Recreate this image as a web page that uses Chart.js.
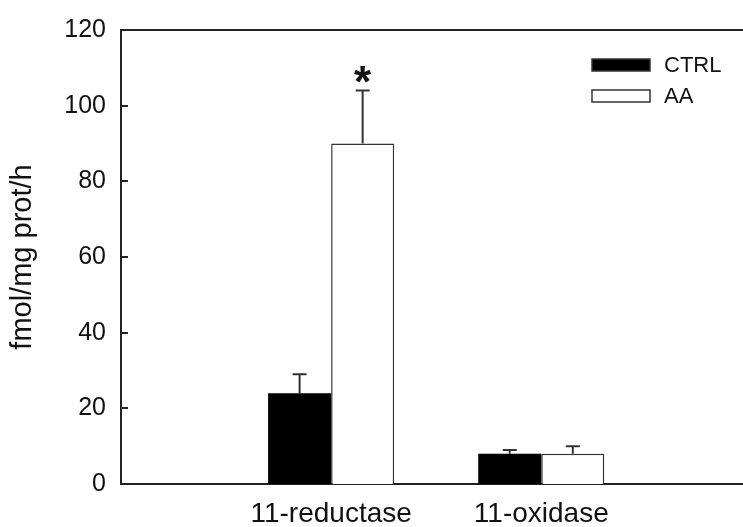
<!DOCTYPE html>
<html>
<head>
<meta charset="utf-8">
<script src="https://cdn.jsdelivr.net/npm/chart.js@4"></script>
<style>
  html, body { margin: 0; padding: 0; background: #fff; overflow: hidden; }
</style>
</head>
<body>
<canvas id="myChart" width="743" height="527"></canvas>
<script>
const categories = ['11-reductase', '11-oxidase'];
const seriesNames = ['CTRL', 'AA'];
const ctrlValues = [24, 8];
const ctrlErrors = [5, 1];
const aaValues = [90, 8];
const aaErrors = [14, 2];
const aaMarks = ['*', ''];
const yMax = 120;
const yStep = 20;

const FONT = '"Liberation Sans", Arial, Helvetica, sans-serif';
const INK = '#222';

const toPoints = function (values) {
  return values.map((v, i) => ({ x: i + 1, y: v }));
};

// error bars, inward y ticks, top frame line, star and legend
const extrasPlugin = {
  id: 'extras',
  afterDraw(chart) {
    const ctx = chart.ctx;
    const area = chart.chartArea;
    const yScale = chart.scales.y;
    ctx.save();

    // top frame line
    ctx.strokeStyle = INK;
    ctx.lineWidth = 2;
    ctx.beginPath();
    ctx.moveTo(area.left, area.top);
    ctx.lineTo(area.right, area.top);
    ctx.stroke();

    // inward y tick marks
    yScale.ticks.forEach(function (t) {
      const y = Math.round(yScale.getPixelForValue(t.value));
      ctx.beginPath();
      ctx.moveTo(area.left, y);
      ctx.lineTo(area.left + 7, y);
      ctx.stroke();
    });

    // error bars (upper only)
    const errors = [ctrlErrors, aaErrors];
    chart.data.datasets.forEach(function (ds, di) {
      const meta = chart.getDatasetMeta(di);
      meta.data.forEach(function (bar, i) {
        const top = yScale.getPixelForValue(ds.data[i].y + errors[di][i]);
        ctx.strokeStyle = '#333';
        ctx.lineWidth = 2;
        ctx.beginPath();
        ctx.moveTo(bar.x, bar.y);
        ctx.lineTo(bar.x, top);
        ctx.moveTo(bar.x - 7, top);
        ctx.lineTo(bar.x + 7, top);
        ctx.stroke();
      });
    });

    // significance star, centred ~16px above the error cap
    const aaMeta = chart.getDatasetMeta(1);
    ctx.fillStyle = '#111';
    ctx.font = 'bold 44px ' + FONT;
    ctx.textAlign = 'center';
    ctx.textBaseline = 'alphabetic';
    aaMarks.forEach(function (m, i) {
      if (!m) return;
      const bar = aaMeta.data[i];
      const top = yScale.getPixelForValue(aaValues[i] + aaErrors[i]);
      const tm = ctx.measureText(m);
      const cy = top - 16;
      ctx.fillText(m, bar.x, cy + (tm.actualBoundingBoxAscent - tm.actualBoundingBoxDescent) / 2);
    });

    // legend
    const lx = area.right - 151;
    const ly = area.top + 29;
    const fills = ['#000', '#fff'];
    ctx.font = '22px ' + FONT;
    ctx.textAlign = 'left';
    ctx.textBaseline = 'middle';
    seriesNames.forEach(function (name, i) {
      const y = ly + i * 31;
      ctx.fillStyle = fills[i];
      ctx.fillRect(lx, y, 58, 12);
      ctx.strokeStyle = '#333';
      ctx.lineWidth = 1.5;
      ctx.strokeRect(lx, y, 58, 12);
      ctx.fillStyle = '#111';
      ctx.fillText(name, lx + 72, y + 7);
    });

    ctx.restore();
  },
};

const myChart = new Chart(document.getElementById('myChart').getContext('2d'), {
  type: 'bar',
  data: {
    datasets: [
      {
        label: seriesNames[0],
        data: toPoints(ctrlValues),
        backgroundColor: '#000',
        borderColor: '#000',
        borderWidth: 0,
        categoryPercentage: 0.6,
        barPercentage: 1.0,
      },
      {
        label: seriesNames[1],
        data: toPoints(aaValues),
        backgroundColor: '#fff',
        borderColor: '#333',
        borderWidth: 1.5,
        categoryPercentage: 0.6,
        barPercentage: 1.0,
      },
    ],
  },
  options: {
    responsive: false,
    animation: false,
    layout: { padding: { left: 0, right: 0, top: 28, bottom: 0 } },
    plugins: {
      legend: { display: false },
      tooltip: { enabled: false },
    },
    scales: {
      x: {
        type: 'linear',
        min: 0,
        max: 2.96,
        offset: false,
        grid: { display: false, drawTicks: false },
        border: { display: true, color: INK, width: 2 },
        afterBuildTicks: function (scale) {
          scale.ticks = categories.map((c, i) => ({ value: i + 1 }));
        },
        afterFit: function (scale) {
          scale.height = 43;
        },
        ticks: {
          autoSkip: false,
          maxRotation: 0,
          padding: 13,
          color: '#111',
          font: { family: FONT, size: 28 },
          callback: function (value) {
            return categories[value - 1] || '';
          },
        },
      },
      y: {
        min: 0,
        max: yMax,
        grid: { display: false, drawTicks: false },
        border: { display: true, color: INK, width: 2 },
        afterFit: function (scale) {
          scale.width = 121;
        },
        ticks: {
          stepSize: yStep,
          padding: 15,
          color: '#111',
          font: { family: FONT, size: 25 },
        },
        title: {
          display: true,
          text: 'fmol/mg prot/h',
          color: '#111',
          font: { family: FONT, size: 29 },
          padding: { top: 6, bottom: 0 },
        },
      },
    },
  },
  plugins: [extrasPlugin],
});
</script>
</body>
</html>
